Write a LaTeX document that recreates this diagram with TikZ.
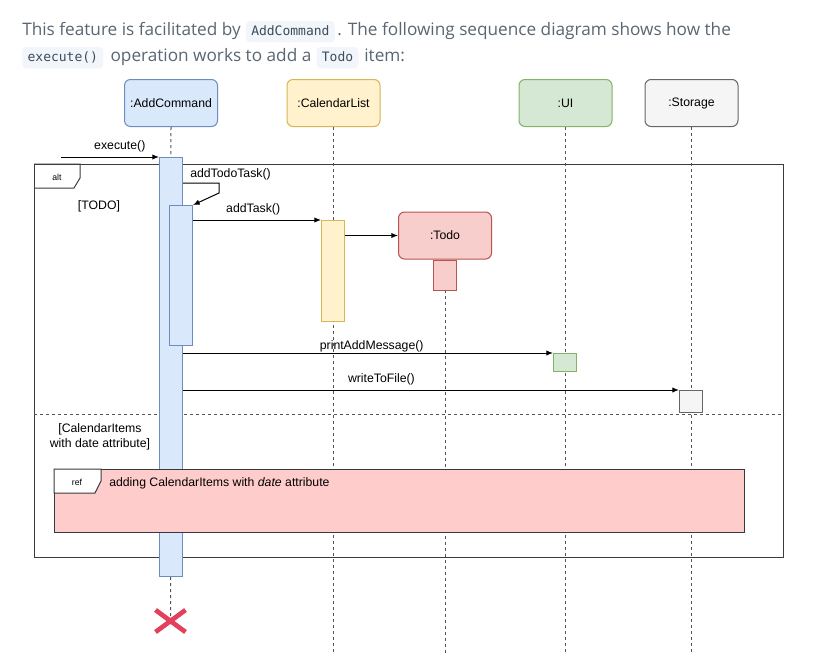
\documentclass[tikz,border=0pt]{standalone}
\usepackage{fontspec}
\setmainfont{Liberation Sans}
\newfontfamily\bodyfont{Open Sans}
\newfontfamily\codefont{DejaVu Sans Mono}
\usetikzlibrary{arrows.meta,positioning,shapes.misc}

\definecolor{bodygray}{HTML}{5A6672}
\definecolor{codeblue}{HTML}{3B4D5E}
\definecolor{chipbg}{HTML}{F2F5F9}
\definecolor{blueF}{HTML}{DAE8FC}
\definecolor{blueD}{HTML}{6C8EBF}
\definecolor{yellowF}{HTML}{FFF2CC}
\definecolor{yellowD}{HTML}{D6B656}
\definecolor{redF}{HTML}{F8CECC}
\definecolor{redD}{HTML}{B85450}
\definecolor{greenF}{HTML}{D5E8D4}
\definecolor{greenD}{HTML}{82B366}
\definecolor{grayF}{HTML}{F5F5F5}
\definecolor{grayD}{HTML}{666666}
\definecolor{refF}{HTML}{FFCCCC}
\definecolor{refD}{HTML}{36393D}
\definecolor{framegray}{HTML}{3C3C3C}
\definecolor{lifegray}{HTML}{555555}
\definecolor{xred}{HTML}{E3405C}

\begin{document}
\begin{tikzpicture}[
			x=0.75pt, y=-0.75pt,
			font=\fontsize{9.2}{11}\selectfont,
			head/.style={draw, rounded corners=4.5pt, line width=0.75pt,
			minimum width=69.75pt, minimum height=35.25pt, inner sep=0pt},
			act/.style={draw, line width=0.75pt, minimum width=17.25pt,
			inner sep=0pt, anchor=north},
			life/.style={draw=lifegray, line width=0.75pt, dash pattern=on 2.25pt off 2.25pt},
			msg/.style={-{Latex[length=5pt,width=4pt]}, line width=0.75pt},
			frame/.style={draw=framegray, line width=0.75pt},
			tag/.style={font=\fontsize{6.5}{8}\selectfont},
			bodytxt/.style={font=\bodyfont\fontsize{12.9}{15}\selectfont,
			text=bodygray, inner sep=0pt, anchor=base west},
			chip/.style={font=\codefont\fontsize{9.75}{12}\selectfont, text=codeblue,
			fill=chipbg, rounded corners=3pt, inner xsep=4pt, inner ysep=2.5pt,
			text height=8pt, text depth=3pt, anchor=base west}
			]
			\path[use as bounding box, fill=white] (0,0) rectangle (814,665);

			% intro text
			\node[bodytxt] (intro1) at (22,35) {This feature is facilitated by};
			\node[chip, base right=3.5pt of intro1] (chipcmd) {AddCommand};
			\node[bodytxt, base right=1.5pt of chipcmd] (intro2)
				{. The following sequence diagram shows how the};
			\node[chip] (chipexec) at (22,61) {execute()};
			\node[bodytxt, base right=5pt of chipexec] (intro3) {operation works to add a};
			\node[chip, base right=3.5pt of intro3] (chiptodo) {Todo};
			\node[bodytxt, base right=4pt of chiptodo] (intro4) {item:};

			% participants
			\node[head, fill=blueF, draw=blueD] (addcmd) at (171,103) {:AddCommand};
			\node[head, fill=yellowF, draw=yellowD] (callist) at (333.5,103) {:CalendarList};
			\node[head, fill=greenF, draw=greenD] (ui) at (565.5,103) {:UI};
			\node[head, fill=grayF, draw=grayD] (storage) at (691.5,103) {:Storage};
			\node[head, fill=redF, draw=redD] (todo) at (445,235.5) {:Todo};
			\coordinate (destroy) at (170.5,621);
			\coordinate (lifeend) at (0,653);

			% alt frame
			\node[frame, minimum width=561.75pt, minimum height=294.75pt,
				inner sep=0pt, anchor=north west] (altframe) at (34,164) {};
			\draw[frame] (altframe.north west) -- ++(46,0) -- ++(0,14) -- ++(-6,10) -- ++(-40,0);
			\node[tag] (alttag) at (57,177) {alt};
			\draw[life] (altframe.west |- 0,414) -- (altframe.east |- 0,414);
			\node (guard1) at (99,206) {[TODO]};
			\node[align=center, inner sep=0pt] (guard2) at (100,437)
				{[CalendarItems\\with date attribute]};

			% lifelines
			\draw[life] (addcmd.south) -- (destroy);
			\draw[life] (callist.south) -- (callist.south |- lifeend);
			\draw[life] (todo.south) -- (todo.south |- lifeend);
			\draw[life] (ui.south) -- (ui.south |- lifeend);
			\draw[life] (storage.south) -- (storage.south |- lifeend);

			% activations
			\node[act, fill=blueF, draw=blueD, minimum height=314.25pt] (act1) at (171,157) {};
			\node[act, fill=blueF, draw=blueD, minimum height=105pt] (act2) at (181,205) {};
			\node[act, fill=yellowF, draw=yellowD, minimum height=75.75pt] (act3) at (333,220) {};
			\node[act, fill=redF, draw=redD, minimum height=22.5pt] (act4) at (todo.south) {};
			\node[act, fill=greenF, draw=greenD, minimum height=13.5pt] (act5) at (565,353) {};
			\node[act, fill=grayF, draw=grayD, minimum height=16.5pt] (act6) at (691,390) {};

			% messages
			\coordinate (caller) at (61,157);
			\draw[msg] (caller) -- (act1.north west) node[pos=0.6, above] {execute()};
			\draw[msg] (act1.east |- 0,183) -- ++(36,0) -- ++(0,10) -- (act2.north east);
			\node (lbltodo) at (230.5,174) {addTodoTask()};
			\draw[msg] (act2.east |- 0,220) -- (act3.north west)
				node[pos=0.47, above=0pt] {addTask()};
			\draw[msg] (act3.east |- todo.west) -- (todo.west);
			\draw[msg] (act1.east |- act5.north) -- (act5.north west)
				node[pos=0.51, above=-3pt] {printAddMessage()};
			\draw[msg] (act1.east |- act6.north) -- (act6.north west)
				node[pos=0.4, above=0pt] {writeToFile()};

			% ref frame
			\node[draw=refD, fill=refF, line width=0.75pt, minimum width=517.5pt,
				minimum height=47.25pt, inner sep=0pt, anchor=north west] (refbox) at (54,469) {};
			\draw[draw=refD, fill=white, line width=0.75pt] (refbox.north west) -- ++(47,0)
				-- ++(0,12) -- ++(-6,12) -- ++(-41,0) -- cycle;
			\node[tag] (reftag) at (77,482) {ref};
			\node[anchor=west, inner sep=0pt] (reftext) at (109,483)
				{adding CalendarItems with \textit{date} attribute};

			% destruction
			\node[cross out, draw=xred, line width=3.5pt, minimum width=19pt,
				minimum height=13pt, inner sep=0pt] (killmark) at (destroy) {};
		\end{tikzpicture}
\end{document}
